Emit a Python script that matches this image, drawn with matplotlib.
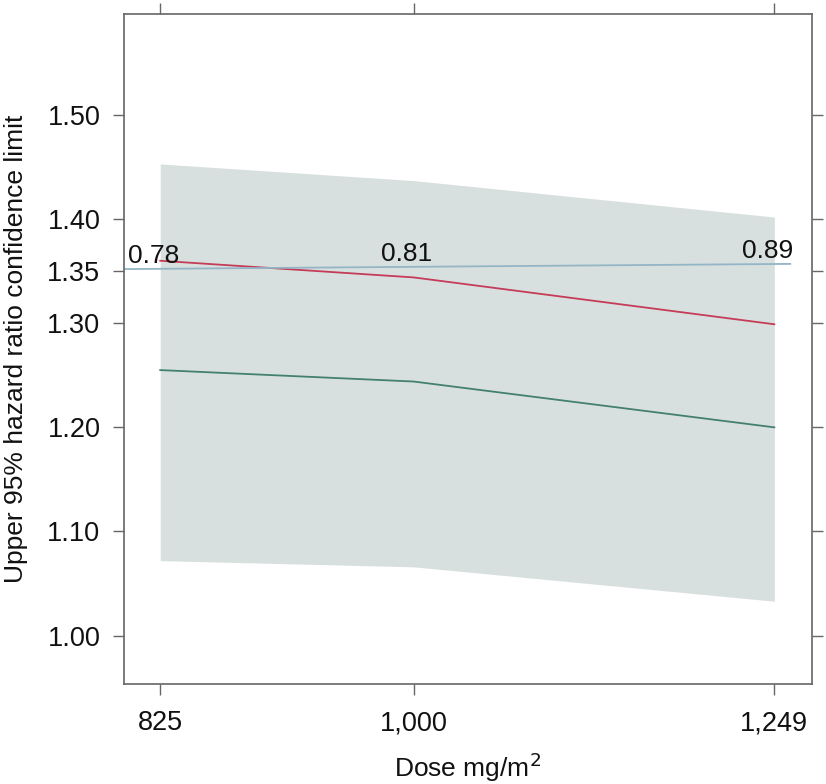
import matplotlib
matplotlib.use("Agg")
import matplotlib.pyplot as plt

plt.rcParams['font.family'] = ['Liberation Sans', 'DejaVu Sans']

dose = [825, 1000, 1249]
dose_labels = ["825", "1,000", "1,249"]
band_upper = [1.453, 1.437, 1.402]
band_lower = [1.072, 1.066, 1.033]
red_line = [1.360, 1.344, 1.299]
green_line = [1.255, 1.244, 1.200]
ref_x = [800, 1260]
ref_y = [1.352, 1.357]
ref_labels = ["0.78", "0.81", "0.89"]
ref_label_y = [1.352, 1.354, 1.357]
yticks = [1.00, 1.10, 1.20, 1.30, 1.35, 1.40, 1.50]

fig = plt.figure(figsize=(8.26, 7.84), dpi=100)
ax = fig.add_axes([124/826, 1 - 684/784, (812-124)/826, (684-14)/784])

ax.fill_between(dose, band_lower, band_upper, color="#d8e0df", linewidth=0)
ax.plot(dose, red_line, color="#c43c58", lw=1.3)
ax.plot(dose, green_line, color="#43806f", lw=1.3)
ax.plot(ref_x, ref_y, color="#93b5c5", lw=1.3)
for x, y, t in zip(dose, ref_label_y, ref_labels):
    ax.annotate(t, (x, y), xytext=(-5, 4.5), textcoords="offset points",
                ha="center", va="baseline", fontsize=19, color="#111111")

ax.set_xlim(800, 1275)
ax.set_ylim(0.9535, 1.597)
ax.set_xticks(dose)
ax.set_xticklabels(dose_labels)
ax.set_yticks(yticks)
ax.set_yticklabels([f"{v:.2f}" for v in yticks])
ax.tick_params(axis="both", direction="out", length=8, width=1, color="#666666",
               labelsize=19.5, labelcolor="#111111", top=True, right=True)
ax.tick_params(axis="x", pad=11)
ax.tick_params(axis="y", pad=9)
for s in ax.spines.values():
    s.set_color("#666666")
    s.set_linewidth(1.2)

ax.set_xlabel("Dose mg/m$^2$", fontsize=19, color="#111111", labelpad=10)
ax.set_ylabel("Upper 95% hazard ratio confidence limit", fontsize=19, color="#111111", labelpad=14)

fig.savefig("out.png", dpi=100)
